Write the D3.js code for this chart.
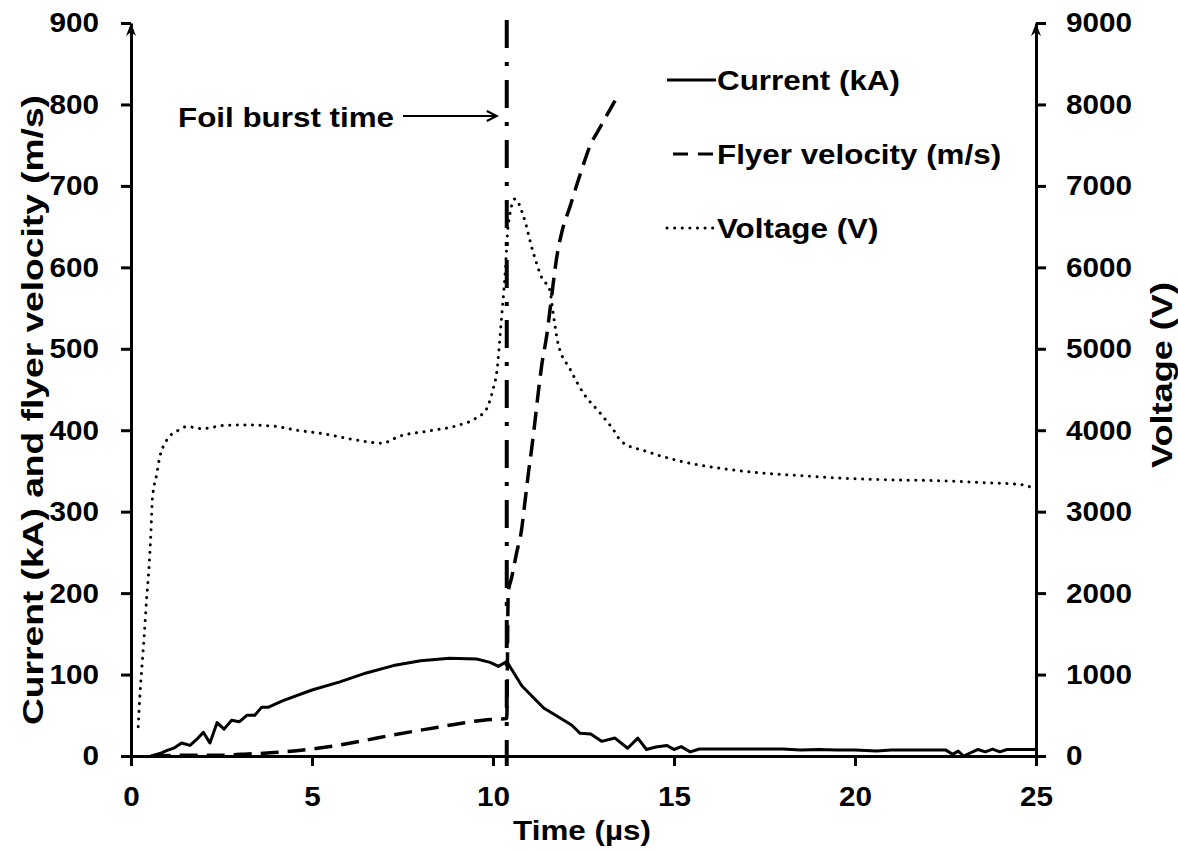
<!DOCTYPE html>
<html lang="en">
<head>
<meta charset="utf-8">
<title>Foil burst: current, flyer velocity and voltage</title>
<script src="https://cdn.jsdelivr.net/npm/d3@7"></script>
<style>
body { margin: 0; background: #fff; }
text { font-family: "Liberation Sans", Arial, sans-serif; font-weight: bold; fill: #000; }
.axis path, .axis line { stroke: #000; stroke-width: 3; }
.axis text { font-size: 28px; }
.series { fill: none; stroke: #000; }
</style>
</head>
<body>
<script>
// current (kA), left axis
var currentT = [0.55, 0.8, 1.0, 1.2, 1.4, 1.63, 1.85, 2.0, 2.18, 2.38, 2.57, 2.78, 2.99, 3.2, 3.42, 3.61, 3.8, 4.2,
  5.0, 5.77, 6.5, 7.25, 8.0, 8.8, 9.55, 9.92, 10.15, 10.38, 10.8, 11.4, 12.17, 12.4, 12.7, 13.0, 13.37, 13.72,
  14.0, 14.24, 14.5, 14.8, 15.0, 15.2, 15.45, 15.7, 16.5, 17.5, 18.0, 18.5, 19.0, 19.5, 20.0, 20.6, 21.0, 22.0,
  22.5, 22.7, 22.85, 23.0, 23.4, 23.6, 23.8, 24.0, 24.2, 25.0];
var currentKA = [0, 3, 7, 10, 16, 13, 22, 29, 16, 41, 33, 44, 42, 50, 50, 60, 60, 68,
  81, 91, 102, 111, 117, 120, 119, 115, 110, 116, 86, 59, 38, 28, 27, 18, 22, 9.5,
  22, 8, 11, 13, 8, 11.5, 5, 8.6, 8.6, 8.6, 8.5, 7.5, 8, 7.5, 7.5, 6, 7.5, 7.5,
  7.5, 2, 6, 0, 8, 5, 8.5, 5, 8, 8];

// flyer velocity (m/s), left axis
var velocityT = [0.6, 1.5, 2.5, 3.0, 3.5, 4.2, 5.4, 6.33, 7.25, 8.17, 9.09, 9.73, 10.38, 10.42, 10.52, 10.65,
  10.79, 10.88, 10.98, 11.07, 11.16, 11.25, 11.35, 11.48, 11.57, 11.66, 11.76, 11.9, 12.13, 12.4, 12.68, 12.96, 13.4];
var velocityMS = [0, 1, 1, 2, 3, 5, 11, 18, 26, 33, 40, 44, 46, 200, 220, 249,
  278, 311, 348, 378, 411, 446, 481, 515, 546, 579, 612, 643, 675, 713, 749, 772, 807];

// voltage (V), right axis
var voltageT = [0.2, 0.25, 0.31, 0.37, 0.43, 0.5, 0.55, 0.59, 0.71, 0.8, 0.89, 0.99, 1.12, 1.31, 1.54, 1.95, 2.6,
  3.06, 3.93, 4.58, 5.27, 6.1, 6.97, 7.1, 7.38, 8.21, 9.04, 9.5, 9.82, 10.0, 10.1, 10.24, 10.33, 10.42, 10.61,
  10.84, 11.1, 11.35, 11.57, 11.66, 11.8, 12.13, 12.49, 12.96, 13.32, 13.55, 14.24, 15.17, 16.4, 17.28, 18.57,
  19.68, 20.97, 22.35, 23.36, 24.65, 24.93];
var voltageV = [360, 770, 1140, 1510, 1920, 2330, 2740, 3150, 3460, 3680, 3800, 3880, 3950, 4000, 4045, 4020, 4060,
  4065, 4050, 4000, 3960, 3890, 3840, 3860, 3920, 3990, 4060, 4140, 4260, 4500, 4700, 5400, 5890, 6510, 6840,
  6630, 6200, 5870, 5720, 5440, 5060, 4750, 4460, 4210, 4010, 3860, 3740, 3620, 3525, 3480, 3440,
  3410, 3390, 3380, 3360, 3330, 3280];

var burstTime = 10.38;
var xTicks = [0, 5, 10, 15, 20, 25];
var leftTicks = [0, 100, 200, 300, 400, 500, 600, 700, 800, 900];
var rightTicks = [0, 1000, 2000, 3000, 4000, 5000, 6000, 7000, 8000, 9000];
var legendNames = ["Current (kA)", "Flyer velocity (m/s)", "Voltage (V)"];

var w = 1178, h = 850;

var x = d3.scaleLinear().domain([0, 25]).range([131, 1036]);
var yL = d3.scaleLinear().domain([0, 900]).range([756, 23]);
var yR = d3.scaleLinear().domain([0, 9000]).range([756, 23]);

var svg = d3.select("body").append("svg")
  .attr("width", w)
  .attr("height", h);

// widen glyphs a bit, the source font is broader than Liberation Sans
function stretch(sel, k) {
  sel.each(function () {
    var len = this.getComputedTextLength();
    d3.select(this).attr("textLength", len * k).attr("lengthAdjust", "spacingAndGlyphs");
  });
}

function zip(ts, vs) { return ts.map(function (t, i) { return [t, vs[i]]; }); }

// axes
var gx = svg.append("g")
  .attr("class", "axis")
  .attr("transform", "translate(0," + yL(0) + ")")
  .call(d3.axisBottom(x).tickValues(xTicks).tickSize(10).tickSizeOuter(0).tickPadding(20));

var gl = svg.append("g")
  .attr("class", "axis")
  .attr("transform", "translate(" + x(0) + ",0)")
  .call(d3.axisLeft(yL).tickValues(leftTicks).tickSize(10).tickSizeOuter(0).tickPadding(22));

var gr = svg.append("g")
  .attr("class", "axis")
  .attr("transform", "translate(" + x(25) + ",0)")
  .call(d3.axisRight(yR).tickValues(rightTicks).tickFormat(d3.format("d"))
    .tickSize(10).tickSizeOuter(0).tickPadding(20));

[gx, gl, gr].forEach(function (g) { stretch(g.selectAll("text"), 1.06); });

// arrow heads on the two value axes
[x(0), x(25)].forEach(function (ax) {
  svg.append("path")
    .attr("d", "M" + (ax - 5) + "," + (yL(900) + 13) + "L" + ax + "," + yL(900) +
      "L" + (ax + 5) + "," + (yL(900) + 13) + "L" + ax + "," + (yL(900) + 9) + "Z")
    .attr("fill", "#000");
});

// series
var line = d3.line()
  .x(function (d) { return x(d[0]); })
  .y(function (d) { return yL(d[1]); });

var smoothL = d3.line()
  .x(function (d) { return x(d[0]); })
  .y(function (d) { return yL(d[1]); })
  .curve(d3.curveMonotoneX);

var smoothR = d3.line()
  .x(function (d) { return x(d[0]); })
  .y(function (d) { return yR(d[1]); })
  .curve(d3.curveMonotoneX);

svg.append("path")
  .datum(zip(voltageT, voltageV))
  .attr("class", "series")
  .attr("d", smoothR)
  .attr("stroke-width", 3)
  .attr("stroke-linecap", "round")
  .attr("stroke-dasharray", "0.1 7.5");

svg.append("path")
  .datum(zip(velocityT, velocityMS))
  .attr("class", "series")
  .attr("d", smoothL)
  .attr("stroke-width", 3.5)
  .attr("stroke-dasharray", "18 9");

svg.append("path")
  .datum(zip(currentT, currentKA))
  .attr("class", "series")
  .attr("d", line)
  .attr("stroke-width", 3)
  .attr("stroke-linejoin", "round");

// foil burst time marker
svg.append("line")
  .attr("x1", x(burstTime)).attr("x2", x(burstTime))
  .attr("y1", yL(900) - 3).attr("y2", yL(0) + 10)
  .attr("stroke", "#000")
  .attr("stroke-width", 4)
  .attr("stroke-dasharray", "28 14 4 14");

var arrowY = 116, arrowEnd = x(burstTime) - 10;
svg.append("line")
  .attr("x1", 403).attr("x2", arrowEnd)
  .attr("y1", arrowY).attr("y2", arrowY)
  .attr("stroke", "#000").attr("stroke-width", 2);
svg.append("path")
  .attr("d", "M" + (arrowEnd - 10) + "," + (arrowY - 5) + "L" + arrowEnd + "," + arrowY +
    "L" + (arrowEnd - 10) + "," + (arrowY + 5))
  .attr("fill", "none").attr("stroke", "#000").attr("stroke-width", 2);

var burstLabel = svg.append("text")
  .attr("x", 178).attr("y", 127)
  .attr("font-size", 28)
  .text("Foil burst time");
stretch(burstLabel, 1.12);

// legend
var legend = svg.append("g").attr("transform", "translate(667,80)");
var rows = legend.selectAll("g").data(legendNames).enter().append("g")
  .attr("transform", function (d, i) { return "translate(0," + (i * 74) + ")"; });

rows.append("line")
  .attr("x1", function (d, i) { return i === 1 ? 6 : 0; })
  .attr("x2", function (d, i) { return i === 1 ? 46 : 49; })
  .attr("stroke", "#000")
  .attr("stroke-width", 3)
  .attr("stroke-linecap", function (d, i) { return i === 2 ? "round" : "butt"; })
  .attr("stroke-dasharray", function (d, i) { return ["none", "15 10", "0.1 7.5"][i]; });

rows.append("text")
  .attr("x", 50)
  .attr("y", 10)
  .attr("font-size", 28)
  .text(function (d) { return d; })
  .call(stretch, 1.12);

// axis titles
var xTitle = svg.append("text")
  .attr("x", 582).attr("y", 840)
  .attr("text-anchor", "middle")
  .attr("font-size", 28)
  .text("Time (µs)");
stretch(xTitle, 1.12);

svg.append("text")
  .attr("transform", "translate(43,410) rotate(-90)")
  .attr("text-anchor", "middle")
  .attr("font-size", 30)
  .attr("textLength", 630)
  .attr("lengthAdjust", "spacingAndGlyphs")
  .text("Current (kA) and flyer velocity (m/s)");

svg.append("text")
  .attr("transform", "translate(1172,375) rotate(-90)")
  .attr("text-anchor", "middle")
  .attr("font-size", 30)
  .attr("textLength", 186)
  .attr("lengthAdjust", "spacingAndGlyphs")
  .text("Voltage (V)");
</script>
</body>
</html>
